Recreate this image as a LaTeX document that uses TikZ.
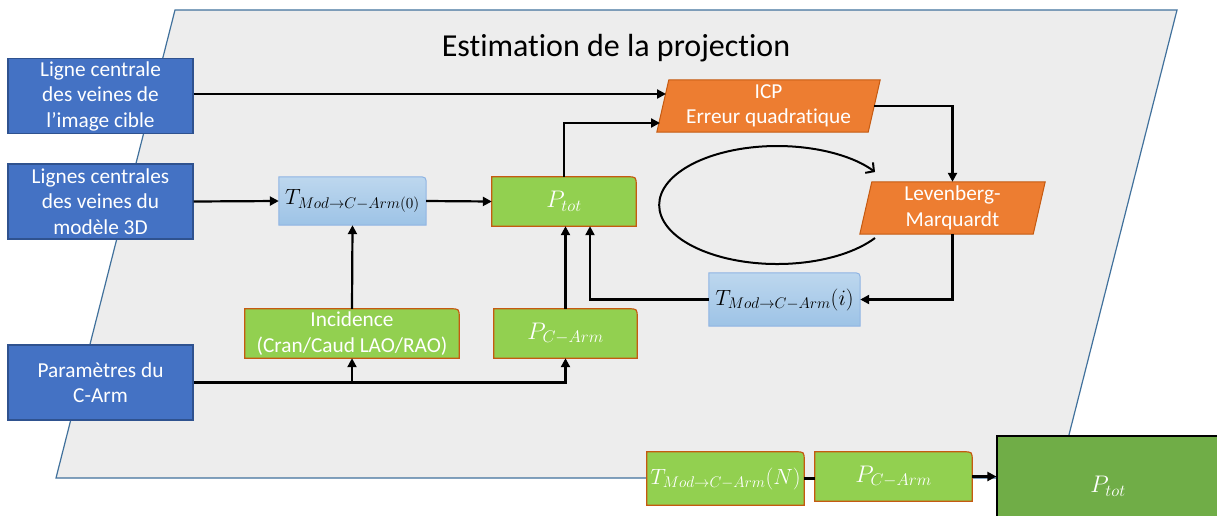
\RequirePackage{fix-cm}
\documentclass[tikz,border=0pt]{standalone}
\usepackage{fontspec}
\setmainfont{Carlito}[Ligatures=NoCommon]
\usetikzlibrary{arrows.meta,backgrounds,calc}

\definecolor{fond}{HTML}{EDEDED}
\definecolor{bordfond}{HTML}{41719C}
\definecolor{bleuF}{HTML}{4472C4}
\definecolor{bleuB}{HTML}{2F528F}
\definecolor{bleuC1}{HTML}{BDD7EE}
\definecolor{bleuC2}{HTML}{9DC3E6}
\definecolor{bleuCb}{HTML}{8FB4E3}
\definecolor{vertC}{HTML}{92D050}
\definecolor{vertF}{HTML}{70AD47}
\definecolor{brun}{HTML}{C55A11}
\definecolor{orangeF}{HTML}{ED7D31}

\begin{document}
\begin{tikzpicture}[x=1pt, y=-1pt,
    titre/.style={font=\fontsize{32}{38}\selectfont},
    txt/.style={font=\fontsize{21.3}{25.5}\selectfont, text=white, align=center, inner sep=0pt},
    maths/.style={font=\fontsize{24}{28}\selectfont, inner sep=0pt},
    mathT/.style={font=\fontsize{22}{26}\selectfont, inner sep=0pt},
    entree/.style={txt, fill=bleuF, draw=bleuB, line width=1.2pt, minimum width=185pt, minimum height=75pt},
    bleuclair/.style={top color=bleuC1, bottom color=bleuC2, draw=bleuCb, line width=1pt},
    vert/.style={fill=vertC, draw=brun, line width=1.2pt},
    orange/.style={fill=orangeF, draw=brun, line width=1pt},
    trait/.style={line width=2.2pt},
    fleche/.style={trait, -{Triangle[length=9pt,width=9pt]}},
    boucle/.style={line width=2pt, -{Straight Barb[length=6pt,width=13pt]}}]
    \useasboundingbox (0,0) rectangle (1217,515);

    % Titre
    \node[titre] (titre) at (616,48) {Estimation de la projection};

    % Entrees
    \node[entree] (img) at (100.5,96) {Ligne centrale\\des veines de\\l’image cible};
    \node[entree] (mod) at (100.5,201.5) {Lignes centrales\\des veines du\\modèle 3D};
    \node[entree] (carm) at (100.5,382.5) {Paramètres du\\C-Arm};

    % Blocs de calcul
    \node[mathT, minimum width=147pt, minimum height=48pt] (tzero) at (352.5,201) {$T_{Mod\rightarrow C-Arm(0)}$};
    \node[maths, text=white, minimum width=144pt, minimum height=49pt] (ptot) at (564,201.5) {$P_{tot}$};
    \node[txt, minimum width=214pt, minimum height=49pt] (inc) at (352,333.5) {Incidence\\(Cran/Caud LAO/RAO)};
    \node[maths, text=white, minimum width=143pt, minimum height=49pt] (pcarm) at (565.5,333.5) {$P_{C-Arm}$};
    \node[txt, minimum width=223pt, minimum height=52pt] (icp) at (768.5,106) {ICP\\Erreur quadratique};
    \node[txt, minimum width=185pt, minimum height=52pt] (lm) at (952.5,208) {Levenberg-\\Marquardt};
    \node[mathT, minimum width=151pt, minimum height=53pt] (ti) at (784.5,299.5) {$T_{Mod\rightarrow C-Arm}(i)$};

    % Sortie
    \node[mathT, text=white, minimum width=157pt, minimum height=53pt] (tn) at (725.5,478.5) {$T_{Mod\rightarrow C-Arm}(N)$};
    \node[maths, text=white, minimum width=157pt, minimum height=49pt] (pcarmb) at (893.5,476.5) {$P_{C-Arm}$};
    \node[maths, text=white, fill=vertF, draw=black, line width=1.2pt, minimum width=222pt, minimum height=100pt] (ptotb) at (1108,486) {$P_{tot}$};

    % Fond et contours des blocs
    \begin{scope}[on background layer]
        \draw[fill=fond, draw=bordfond, line width=1.2pt] (175,10) -- (1177,10) -- (1058,478) -- (56,478) -- cycle;
        \foreach \n/\s in {tzero/bleuclair, ti/bleuclair, ptot/vert, pcarm/vert, inc/vert, tn/vert, pcarmb/vert}
            \draw[\s] (\n.south west) -- (\n.north west) -- ([xshift=-9pt]\n.north east)
                .. controls (\n.north east) .. ([yshift=-9pt]\n.north east) -- (\n.south east) -- cycle;
        \foreach \n in {icp, lm}
            \draw[orange] (\n.south west) -- ([xshift=12pt]\n.north west) -- (\n.north east)
                -- ([xshift=-12pt]\n.south east) -- cycle;
    \end{scope}

    % Points sur les bords obliques
    \coordinate (icpa) at (666,94);
    \coordinate (icpb) at (660,123);
    \coordinate (icpr) at (874,106);
    \coordinate (bA) at (875,238);

    % Connecteurs
    \draw[fleche] (img.east |- icpa) -- (icpa);
    \draw[fleche] (ptot.north) |- (icpb);
    \draw[fleche] (mod.east) -- (tzero.west);
    \draw[fleche] (tzero.east) -- (ptot.west);
    \draw[fleche] (inc.north) -- (tzero.south);
    \draw[fleche] (pcarm.north) -- (pcarm.north |- ptot.south);
    \draw[fleche] (ti.west) -| ([xshift=26pt]ptot.south);
    \draw[fleche] (carm.east) -| (pcarm.south);
    \draw[fleche] (carm.east -| inc.south) -- (inc.south);
    \draw[fleche] (icpr) -| (lm.north);
    \draw[fleche] (lm.south) |- (ti.east);
    \draw[trait] (tn.east) -- (tn.east -| pcarmb.west);
    \draw[fleche] (pcarmb.east) -- (pcarmb.east -| ptotb.west);

    % Boucle d'iteration
    \draw[boucle] (bA) arc[start angle=34, end angle=326, x radius=118, y radius=59];
\end{tikzpicture}
\end{document}
